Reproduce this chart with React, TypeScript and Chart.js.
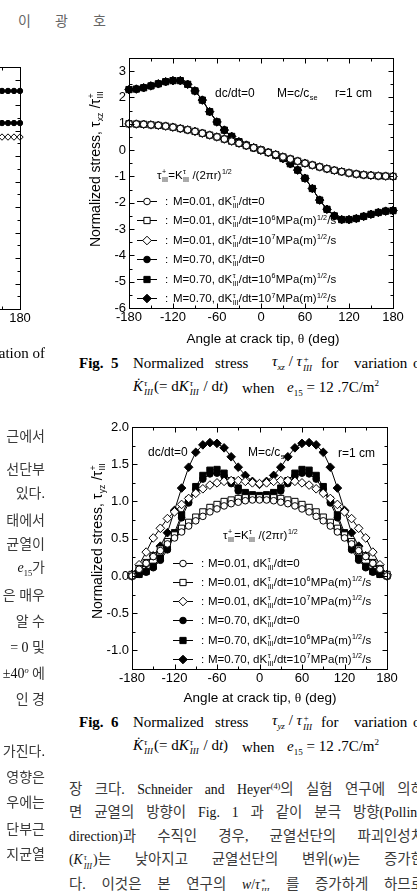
import React, { useEffect, useRef } from 'react';
import { Chart, registerables } from 'chart.js';
import { drawPoint } from 'chart.js/helpers';

Chart.register(...registerables);

const SANS = '"Liberation Sans", Arial, Helvetica, sans-serif';
const SERIF = '"Liberation Serif", "Times New Roman", serif';
const BODY = '"Liberation Serif", "Noto Sans CJK KR", serif';

// ---------------------------------------------------------------- data
// Angle around the crack tip (deg)
const angles = [
  -180, -170, -160, -150, -140, -130, -120, -110, -100, -90, -80, -70, -60, -50, -40, -30, -20, -10,
  0, 10, 20, 30, 40, 50, 60, 70, 80, 90, 100, 110, 120, 130, 140, 150, 160, 170, 180,
];

// Fig. 5 : tau_xz / tau_III+  (the three loading rates coincide for each M)
const xzSlow = [
  1.0, 0.99, 0.98, 0.96, 0.94, 0.91, 0.87, 0.82, 0.77, 0.71, 0.64, 0.57, 0.5, 0.42, 0.34, 0.26, 0.17, 0.09,
  0.0, -0.09, -0.17, -0.26, -0.34, -0.42, -0.5, -0.57, -0.64, -0.71, -0.77, -0.82, -0.87, -0.91, -0.94, -0.96, -0.98, -0.99, -1.0,
];
const xzFast = [
  2.3, 2.32, 2.37, 2.44, 2.52, 2.6, 2.64, 2.64, 2.5, 2.25, 1.9, 1.46, 1.07, 0.76, 0.52, 0.32, 0.19, 0.09,
  0.0, -0.09, -0.19, -0.32, -0.52, -0.76, -1.07, -1.46, -1.9, -2.25, -2.5, -2.64, -2.64, -2.6, -2.52, -2.44, -2.37, -2.32, -2.3,
];

// Fig. 6 : tau_yz / tau_III+
const yzSlowRate0 = [
  0.0, 0.09, 0.17, 0.26, 0.34, 0.43, 0.51, 0.59, 0.67, 0.74, 0.8, 0.86, 0.9, 0.94, 0.97, 0.99, 1.01, 1.02,
  1.02, 1.02, 1.01, 0.99, 0.97, 0.94, 0.9, 0.86, 0.8, 0.74, 0.67, 0.59, 0.51, 0.43, 0.34, 0.26, 0.17, 0.09, 0.0,
];
const yzSlowRate6 = [
  0.02, 0.1, 0.18, 0.27, 0.36, 0.46, 0.55, 0.64, 0.72, 0.79, 0.86, 0.92, 0.96, 1.0, 1.02, 1.04, 1.05, 1.05,
  1.05, 1.05, 1.05, 1.04, 1.02, 1.0, 0.96, 0.92, 0.86, 0.79, 0.72, 0.64, 0.55, 0.46, 0.36, 0.27, 0.18, 0.1, 0.02,
];
const yzSlowRate7 = [
  0.02, 0.15, 0.32, 0.51, 0.64, 0.77, 0.86, 0.96, 1.04, 1.11, 1.17, 1.22, 1.25, 1.27, 1.28, 1.28, 1.27, 1.25,
  1.24, 1.25, 1.27, 1.28, 1.28, 1.27, 1.25, 1.22, 1.17, 1.11, 1.04, 0.96, 0.86, 0.77, 0.64, 0.51, 0.32, 0.15, 0.02,
];
const yzFastRate0 = [
  0.0, 0.02, 0.05, 0.11, 0.21, 0.35, 0.54, 0.78, 0.98, 1.16, 1.3, 1.37, 1.38, 1.34, 1.24, 1.14, 1.08, 1.05,
  1.04, 1.05, 1.08, 1.14, 1.24, 1.34, 1.38, 1.37, 1.3, 1.16, 0.98, 0.78, 0.54, 0.35, 0.21, 0.11, 0.05, 0.02, 0.0,
];
const yzFastRate6 = [
  0.0, 0.02, 0.06, 0.13, 0.24, 0.38, 0.58, 0.82, 1.02, 1.2, 1.35, 1.42, 1.43, 1.38, 1.28, 1.18, 1.12, 1.09,
  1.08, 1.09, 1.12, 1.18, 1.28, 1.38, 1.43, 1.42, 1.35, 1.2, 1.02, 0.82, 0.58, 0.38, 0.24, 0.13, 0.06, 0.02, 0.0,
];
const yzFastRate7 = [
  0.0, 0.07, 0.16, 0.27, 0.4, 0.58, 0.88, 1.18, 1.46, 1.66, 1.76, 1.79, 1.78, 1.72, 1.6, 1.46, 1.35, 1.27,
  1.23, 1.27, 1.35, 1.46, 1.6, 1.72, 1.78, 1.79, 1.76, 1.66, 1.46, 1.18, 0.88, 0.58, 0.4, 0.27, 0.16, 0.07, 0.0,
];

// Preceding figure in the left column (only its right edge is on this page)
const edgeAngles = [150, 160, 170, 180];
const edgeUpper = [2.56, 2.56, 2.56, 2.56];
const edgeMiddle = [1.3, 1.3, 1.3, 1.3];
const edgeLower = [0.75, 0.75, 0.75, 0.75];

// Axis ticks
const angleTicks = [-180, -120, -60, 0, 60, 120, 180];
const xzTicks = [-6, -5, -4, -3, -2, -1, 0, 1, 2, 3];
const yzTicks = [-1.0, -0.5, 0.0, 0.5, 1.0, 1.5, 2.0];

// Legend parameters: Mach ratio and loading-rate exponent (empty = dK/dt = 0)
const machs = ['0.01', '0.70'];
const rateExps = ['', '6', '7'];

// ---------------------------------------------------------------- helpers
type Seg = { t?: string; sup?: string; sub?: string; serif?: boolean };
type Style = 'circle' | 'rect' | 'rectRot';

const markerStyles: Style[] = ['circle', 'rect', 'rectRot'];
const markerRadius: Record<Style, number> = { circle: 3.3, rect: 4.4, rectRot: 4.3 };

const fontStr = (size: number, serif?: boolean) => `${size}px ${serif ? SERIF : SANS}`;

function richWidth(ctx: CanvasRenderingContext2D, segs: Seg[], size: number) {
  let w = 0;
  for (const s of segs) {
    if (s.t) {
      ctx.font = fontStr(size, s.serif);
      w += ctx.measureText(s.t).width;
    }
    if (s.sup || s.sub) {
      ctx.font = fontStr(size * 0.62, s.serif);
      w += Math.max(s.sup ? ctx.measureText(s.sup).width : 0, s.sub ? ctx.measureText(s.sub).width : 0) + size * 0.06;
    }
  }
  return w;
}

function drawRich(ctx: CanvasRenderingContext2D, segs: Seg[], x: number, baseY: number, size: number, center = false) {
  let cx = center ? x - richWidth(ctx, segs, size) / 2 : x;
  ctx.save();
  ctx.fillStyle = '#000';
  ctx.textAlign = 'left';
  ctx.textBaseline = 'alphabetic';
  for (const s of segs) {
    if (s.t) {
      ctx.font = fontStr(size, s.serif);
      ctx.fillText(s.t, cx, baseY);
      cx += ctx.measureText(s.t).width;
    }
    if (s.sup || s.sub) {
      ctx.font = fontStr(size * 0.62, s.serif);
      let w = 0;
      if (s.sup) {
        ctx.fillText(s.sup, cx + 0.5, baseY - size * 0.42);
        w = Math.max(w, ctx.measureText(s.sup).width);
      }
      if (s.sub) {
        ctx.fillText(s.sub, cx + 0.5, baseY + size * 0.24);
        w = Math.max(w, ctx.measureText(s.sub).width);
      }
      cx += w + size * 0.06;
    }
  }
  ctx.restore();
}

function legendSegs(mach: string, rate: string): Seg[] {
  const head: Seg = { t: `M=${mach}, dK`, sup: 'τ', sub: 'III' };
  if (!rate) return [head, { t: '/dt=0' }];
  return [head, { t: '/dt=10', sup: rate }, { t: 'MPa(m)', sup: '1/2' }, { t: '/s' }];
}

function drawLegend(
  ctx: CanvasRenderingContext2D,
  lineL: number, lineR: number, colonX: number, textX: number,
  firstY: number, stepY: number, size: number,
) {
  for (let i = 0; i < 6; i++) {
    const y = firstY + i * stepY;
    const style = markerStyles[i % 3];
    const filled = i >= 3;
    ctx.save();
    ctx.strokeStyle = '#000';
    ctx.lineWidth = 1;
    ctx.beginPath();
    ctx.moveTo(lineL, Math.round(y) + 0.5);
    ctx.lineTo(lineR, Math.round(y) + 0.5);
    ctx.stroke();
    ctx.fillStyle = filled ? '#000' : '#fff';
    drawPoint(ctx, { pointStyle: style, radius: markerRadius[style], rotation: 0, borderWidth: 1 } as any, (lineL + lineR) / 2, Math.round(y) + 0.5);
    ctx.restore();
    drawRich(ctx, [{ t: ':' }], colonX, y + size * 0.36, size);
    drawRich(ctx, legendSegs(machs[Math.floor(i / 3)], rateExps[i % 3]), textX, y + size * 0.36, size);
  }
}

function drawRotated(ctx: CanvasRenderingContext2D, segs: Seg[], cx: number, cy: number, size: number) {
  ctx.save();
  ctx.translate(cx, cy);
  ctx.rotate(-Math.PI / 2);
  drawRich(ctx, segs, 0, size * 0.36, size, true);
  ctx.restore();
}

function series(xs: number[], values: number[], style: Style, filled: boolean, radius?: number) {
  return {
    data: xs.map((x, i) => ({ x, y: values[i] })),
    borderColor: '#000',
    borderWidth: 1,
    pointStyle: style,
    pointRadius: radius ?? markerRadius[style],
    pointHoverRadius: radius ?? markerRadius[style],
    pointBackgroundColor: filled ? '#000' : '#fff',
    pointBorderColor: '#000',
    pointBorderWidth: 1,
    fill: false,
    tension: 0,
    clip: false as const,
  };
}

const mids = (arr: number[]) => arr.slice(1).map((v, i) => (v + arr[i]) / 2);

function framePlugin(xMajor: number[], yMajor: number[], decor?: (ctx: CanvasRenderingContext2D) => void) {
  return {
    id: 'frame',
    afterDraw(chart: Chart) {
      const { ctx, chartArea: a } = chart;
      const xs = chart.scales.x;
      const ys = chart.scales.y;
      const L = Math.floor(a.left) + 0.5;
      const R = Math.floor(a.right) + 0.5;
      const T = Math.floor(a.top) + 0.5;
      const B = Math.floor(a.bottom) + 0.5;
      ctx.save();
      ctx.strokeStyle = '#000';
      ctx.lineWidth = 1;
      ctx.strokeRect(L, T, R - L, B - T);
      ctx.beginPath();
      const xt = (v: number, len: number) => {
        const p = Math.round(xs.getPixelForValue(v)) + 0.5;
        ctx.moveTo(p, B); ctx.lineTo(p, B - len);
        ctx.moveTo(p, T); ctx.lineTo(p, T + len);
      };
      const yt = (v: number, len: number) => {
        const p = Math.round(ys.getPixelForValue(v)) + 0.5;
        ctx.moveTo(L, p); ctx.lineTo(L + len, p);
        ctx.moveTo(R, p); ctx.lineTo(R - len, p);
      };
      xMajor.forEach((v) => xt(v, 5));
      mids(xMajor).forEach((v) => xt(v, 3));
      yMajor.forEach((v) => yt(v, 5));
      mids(yMajor).forEach((v) => yt(v, 3));
      ctx.stroke();
      ctx.restore();
      if (decor) decor(ctx);
    },
  };
}

function scalesFor(o: {
  yMin: number; yMax: number; yTicks: number[]; yFmt: (v: number) => string;
  yWidth: number; xHeight: number; showY: boolean;
}) {
  return {
    x: {
      type: 'linear' as const,
      min: -180,
      max: 180,
      afterBuildTicks: (s: any) => { s.ticks = angleTicks.map((v) => ({ value: v })); },
      afterFit: (s: any) => { s.height = o.xHeight; },
      grid: { display: false, drawTicks: false },
      border: { display: false },
      ticks: {
        color: '#000', font: { family: SANS, size: 13 }, padding: 2,
        autoSkip: false, maxRotation: 0, callback: (v: any) => String(v),
      },
    },
    y: {
      type: 'linear' as const,
      min: o.yMin,
      max: o.yMax,
      afterBuildTicks: (s: any) => { s.ticks = o.yTicks.map((v) => ({ value: v })); },
      afterFit: (s: any) => { s.width = o.yWidth; },
      grid: { display: false, drawTicks: false },
      border: { display: false },
      ticks: {
        display: o.showY, color: '#000', font: { family: SANS, size: 13 }, padding: 3,
        autoSkip: false, callback: (v: any) => o.yFmt(Number(v)),
      },
    },
  };
}

function baseOptions(pad: { top: number; right: number }, scales: any) {
  return {
    responsive: false,
    maintainAspectRatio: false,
    animation: false as const,
    devicePixelRatio: 1,
    layout: { padding: { left: 0, top: pad.top, right: pad.right, bottom: 0 } },
    plugins: { legend: { display: false }, tooltip: { enabled: false }, title: { display: false } },
    events: [] as any[],
    scales,
  };
}

const tauPlus: Seg[] = [{ t: 'τ', sup: '+', sub: 'III' }, { t: '=K', sup: 'τ', sub: 'III' }, { t: ' /(2πr)', sup: '1/2' }];
const angleTitle: Seg[] = [{ t: 'Angle at crack tip, ' }, { t: 'θ', serif: true }, { t: ' (deg)' }];

// ---------------------------------------------------------------- chart configs
function fig5Config(): any {
  const slowSets = markerStyles.map((st) => series(angles, xzSlow, st, false));
  const fastSets = markerStyles.map((st) => series(angles, xzFast, st, true));
  const decor = (ctx: CanvasRenderingContext2D) => {
    drawRich(ctx, [{ t: 'dc/dt=0' }], 135, 57, 12);
    drawRich(ctx, [{ t: 'M=c/c', sub: 'se' }], 197, 57, 12);
    drawRich(ctx, [{ t: 'r=1 cm' }], 255, 57, 12);
    drawRich(ctx, tauPlus, 77, 139, 11.5);
    drawLegend(ctx, 57, 77, 85, 93, 160.7, 19.5, 11.5);
    drawRich(ctx, angleTitle, 183, 303, 13.5, true);
    drawRotated(ctx, [{ t: 'Normalized stress, τ', sub: 'xz' }, { t: ' /τ', sup: '+', sub: 'III' }], 15, 129, 14);
  };
  return {
    type: 'line',
    data: { datasets: [...slowSets, ...fastSets] },
    options: baseOptions(
      { top: 18, right: 17 },
      scalesFor({ yMin: -6, yMax: 3.5, yTicks: xzTicks, yFmt: (v) => String(v), yWidth: 49, xHeight: 42, showY: true }),
    ),
    plugins: [framePlugin(angleTicks, xzTicks, decor)],
  };
}

function fig6Config(): any {
  const sets = [
    series(angles, yzSlowRate0, 'circle', false),
    series(angles, yzSlowRate6, 'rect', false),
    series(angles, yzSlowRate7, 'rectRot', false),
    series(angles, yzFastRate0, 'circle', true),
    series(angles, yzFastRate6, 'rect', true),
    series(angles, yzFastRate7, 'rectRot', true),
  ];
  const decor = (ctx: CanvasRenderingContext2D) => {
    drawRich(ctx, [{ t: 'dc/dt=0' }], 68, 46, 12);
    drawRich(ctx, [{ t: 'M=c/c', sub: 'se' }], 168, 46, 12);
    drawRich(ctx, [{ t: 'r=1 cm' }], 258, 47, 12);
    drawRich(ctx, tauPlus, 143, 129, 11.5);
    drawLegend(ctx, 93, 113, 121, 128, 152.7, 19.2, 11.5);
    drawRich(ctx, angleTitle, 180, 292, 13.5, true);
    drawRotated(ctx, [{ t: 'Normalized stress, τ', sub: 'yz' }, { t: ' /τ', sup: '+', sub: 'III' }], 17, 131, 14);
  };
  return {
    type: 'line',
    data: { datasets: sets },
    options: baseOptions(
      { top: 17, right: 23 },
      scalesFor({ yMin: -1.25, yMax: 2.0, yTicks: yzTicks, yFmt: (v) => v.toFixed(1), yWidth: 52, xHeight: 41, showY: true }),
    ),
    plugins: [framePlugin(angleTicks, yzTicks, decor)],
  };
}

function edgeConfig(): any {
  const sets = [
    series(edgeAngles, edgeUpper, 'circle', true, 2.7),
    series(edgeAngles, edgeMiddle, 'circle', true, 2.7),
    series(edgeAngles, edgeLower, 'rectRot', false, 3.2),
  ];
  return {
    type: 'line',
    data: { datasets: sets },
    options: baseOptions(
      { top: 17, right: 20 },
      scalesFor({ yMin: -6, yMax: 3.5, yTicks: xzTicks, yFmt: (v) => String(v), yWidth: 34, xHeight: 41, showY: false }),
    ),
    plugins: [framePlugin(angleTicks, xzTicks)],
  };
}

// ---------------------------------------------------------------- components
function ChartCanvas(props: { left: number; top: number; width: number; height: number; config: () => any }) {
  const ref = useRef<HTMLCanvasElement>(null);
  useEffect(() => {
    const chart = new Chart(ref.current as HTMLCanvasElement, props.config());
    return () => chart.destroy();
  }, []);
  return (
    <canvas
      ref={ref}
      width={props.width}
      height={props.height}
      style={{ position: 'absolute', left: props.left, top: props.top, width: props.width, height: props.height }}
    />
  );
}

// Hangul runs get their own size and a slightly lighter tone than the Latin text around them
function mix(s: string, scale = 1): React.ReactNode[] {
  return s.split(/([\uAC00-\uD7A3]+)/).map((part, i) =>
    /[\uAC00-\uD7A3]/.test(part)
      ? <span key={i} style={{ fontSize: `${scale}em`, color: '#3a3a3a' }}>{part}</span>
      : part,
  );
}

const Stack = (p: { sup: string; sub: string; italic?: boolean }) => (
  <span
    style={{
      display: 'inline-block', verticalAlign: '-0.55em', fontSize: '0.6em', lineHeight: 1,
      textAlign: 'left', fontStyle: p.italic ? 'italic' : 'normal', margin: '0 1px',
    }}
  >
    <span style={{ display: 'block' }}>{p.sup}</span>
    <span style={{ display: 'block' }}>{p.sub}</span>
  </span>
);

function Txt(p: { x?: number; right?: number; y: number; size?: number; bold?: boolean; color?: string; children: React.ReactNode }) {
  return (
    <div
      style={{
        position: 'absolute',
        left: p.x,
        right: p.right !== undefined ? 417 - p.right : undefined,
        top: p.y,
        transform: 'translateY(-50%)',
        lineHeight: 1,
        whiteSpace: 'nowrap',
        fontFamily: BODY,
        fontSize: p.size ?? 15,
        fontWeight: p.bold ? 700 : 400,
        color: p.color ?? '#000',
      }}
    >
      {p.children}
    </div>
  );
}

function Justified(p: { y: number; children: React.ReactNode }) {
  return (
    <div
      style={{
        position: 'absolute', left: 69, width: 355, top: p.y, transform: 'translateY(-50%)',
        lineHeight: 1.1, textAlign: 'justify', textAlignLast: 'justify', whiteSpace: 'nowrap',
        fontFamily: BODY, fontSize: 13.8, color: '#111',
      }}
    >
      {p.children}
    </div>
  );
}

function Caption(p: { y: number; num: string; sub: string }) {
  const y2 = p.y + 24.5;
  return (
    <>
      <Txt x={79} y={p.y} bold>Fig.</Txt>
      <Txt x={111} y={p.y} bold>{p.num}</Txt>
      <Txt x={133} y={p.y}>Normalized</Txt>
      <Txt x={215} y={p.y}>stress</Txt>
      <Txt x={272} y={p.y}>
        <i>τ</i><sub style={{ fontSize: '0.6em', fontStyle: 'italic' }}>{p.sub}</sub> / <i>τ</i>
        <Stack sup="+" sub="III" italic />
      </Txt>
      <Txt x={321} y={p.y}>for</Txt>
      <Txt x={354} y={p.y}>variation</Txt>
      <Txt x={413} y={p.y}>of</Txt>
      <Txt x={133} y={y2}>
        <i>K̇</i><Stack sup="τ" sub="III" italic />(= d<i>K</i><Stack sup="τ" sub="III" italic /> / d<i>t</i>)
      </Txt>
      <Txt x={242} y={y2}>when</Txt>
      <Txt x={287} y={y2}>
        <i>e</i><sub style={{ fontSize: '0.6em' }}>15</sub> = 12 .7C/m<sup style={{ fontSize: '0.6em' }}>2</sup>
      </Txt>
    </>
  );
}

const leftColumn: { y: number; node: React.ReactNode }[] = [
  { y: 437, node: mix('근에서') },
  { y: 470, node: mix('선단부') },
  { y: 494, node: mix('있다.') },
  { y: 521, node: mix('태에서') },
  { y: 545, node: mix('균열이') },
  { y: 570, node: <><i>e</i><sub style={{ fontSize: '0.6em' }}>15</sub>{mix('가')}</> },
  { y: 596, node: mix('은 매우') },
  { y: 622, node: mix('알 수') },
  { y: 648, node: <>= 0 {mix('및')}</> },
  { y: 674, node: <>±40<sup style={{ fontSize: '0.6em' }}><i>o</i></sup> {mix('에')}</> },
  { y: 700, node: mix('인 경') },
  { y: 752, node: mix('가진다.') },
  { y: 778, node: mix('영향은') },
  { y: 803, node: mix('우에는') },
  { y: 830, node: mix('단부근') },
  { y: 855, node: mix('지균열') },
];

export default function App() {
  return (
    <div
      style={{
        position: 'fixed', left: 0, top: 0, width: 417, height: 891, overflow: 'hidden',
        background: '#fff', color: '#000',
      }}
    >
      {/* running head */}
      <Txt x={18} y={22} size={14} color="#666">이</Txt>
      <Txt x={55} y={22} size={14} color="#666">광</Txt>
      <Txt x={93} y={22} size={14} color="#666">호</Txt>

      {/* figures */}
      <ChartCanvas left={-230} top={50} width={270} height={300} config={edgeConfig} />
      <ChartCanvas left={80} top={40} width={330} height={310} config={fig5Config} />
      <Caption y={363} num="5" sub="xz" />
      <ChartCanvas left={80} top={410} width={330} height={300} config={fig6Config} />
      <Caption y={722} num="6" sub="yz" />

      {/* left column text */}
      <Txt right={45} y={353}>ation of</Txt>
      {leftColumn.map((l, i) => (
        <Txt key={i} right={45} y={l.y} size={14} color="#111">{l.node}</Txt>
      ))}

      {/* right column text */}
      <Justified y={790}>
        {mix('장 크다. Schneider and Heyer', 1.05)}<sup style={{ fontSize: '0.6em' }}>(4)</sup>{mix('의 실험 연구에 의하', 1.05)}
      </Justified>
      <Justified y={813}>{mix('면 균열의 방향이 Fig. 1 과 같이 분극 방향(Polling', 1.05)}</Justified>
      <Justified y={837}>{mix('direction)과 수직인 경우, 균열선단의 파괴인성치', 1.05)}</Justified>
      <Justified y={861}>
        (<i>K</i><Stack sup="τ" sub="III" italic />){mix('는 낮아지고 균열선단의 변위(', 1.05)}<i>w</i>{mix(')는 증가한', 1.05)}
      </Justified>
      <Justified y={886}>
        {mix('다. 이것은 본 연구의 ', 1.05)}<i>w</i>/<i>τ</i><Stack sup="*" sub="III" italic />{mix(' 를 증가하게 하므로', 1.05)}
      </Justified>
    </div>
  );
}
